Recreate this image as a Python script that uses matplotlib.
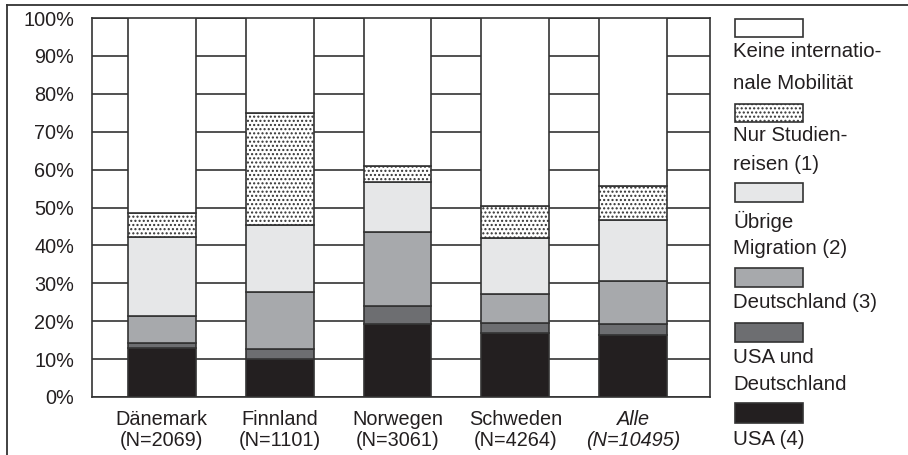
import matplotlib
matplotlib.use("Agg")
import matplotlib.pyplot as plt
import numpy as np
from matplotlib.patches import Rectangle
from matplotlib.lines import Line2D

plt.rcParams['font.family'] = ['Liberation Sans', 'DejaVu Sans']
plt.rcParams['hatch.linewidth'] = 1.0

categories = ["Dänemark\n(N=2069)", "Finnland\n(N=1101)", "Norwegen\n(N=3061)",
              "Schweden\n(N=4264)", "Alle\n(N=10495)"]

# segment shares in percent, bottom to top
usa          = [13.0, 10.0, 19.3, 17.0, 16.3]
usa_und_de   = [1.3, 2.7, 4.7, 2.6, 3.0]
deutschland  = [7.0, 14.9, 19.5, 7.7, 11.3]
uebrige      = [20.8, 17.8, 13.3, 14.6, 16.1]
studienreise = [6.4, 29.6, 4.2, 8.5, 9.0]
keine        = [51.5, 25.0, 39.0, 49.6, 44.3]

series = [usa, usa_und_de, deutschland, uebrige, studienreise, keine]
colors = ["#231f20", "#6d6e71", "#a7a9ac", "#e6e7e8", "white", "white"]
hatches = [None, None, None, None, "....", None]
legend_labels = [["USA (4)"], ["USA und", "Deutschland"], ["Deutschland (3)"],
                 ["Übrige", "Migration (2)"], ["Nur Studien-", "reisen (1)"],
                 ["Keine internatio-", "nale Mobilität"]]

W, H = 908, 455
fig = plt.figure(figsize=(W / 100, H / 100), dpi=100)
fig.patch.set_facecolor("white")

ax = fig.add_axes([92 / W, 1 - 397 / H, (710 - 92) / W, (397 - 18) / H])
x = np.arange(len(categories))
edge = "#333333"
bottom = np.zeros(len(categories))
for vals, c, h in zip(series, colors, hatches):
    ax.bar(x, vals, width=0.576, bottom=bottom, color=c, edgecolor=edge,
           linewidth=1.2, hatch=h, zorder=3)
    bottom += np.array(vals)

FS = 14.3
ax.set_xlim(-0.593, 4.653)
ax.set_ylim(0, 100)
ax.set_yticks(np.arange(0, 101, 10))
ax.set_yticklabels([f"{v}%" for v in range(0, 101, 10)])
ax.yaxis.grid(True, color=edge, linewidth=1.2, zorder=0)
ax.set_axisbelow(True)
ax.set_xticks(x)
ax.set_xticklabels(categories, linespacing=1.1)
ax.get_xticklabels()[-1].set_style("italic")
ax.tick_params(axis="y", length=0, pad=13, labelsize=FS, colors="#231f20")
ax.tick_params(axis="x", length=0, pad=9.5, labelsize=FS, colors="#231f20")
for s in ax.spines.values():
    s.set_color(edge)
    s.set_linewidth(1.2)

# legend drawn in pixel coordinates
lax = fig.add_axes([0, 0, 1, 1], zorder=-1)
lax.set_xlim(0, W)
lax.set_ylim(H, 0)
lax.axis("off")
patch_tops = [403, 323, 268, 183, 104, 19]
patch_h = [20, 19, 19, 19, 18, 18]
text_baselines = [[445], [363, 390], [308], [228, 254], [141, 170], [57, 89]]
for c, h, top, ph, labs, bls in zip(colors, hatches, patch_tops, patch_h,
                                    legend_labels, text_baselines):
    lax.add_patch(Rectangle((735, top), 68, ph, facecolor=c, edgecolor=edge,
                            linewidth=1.2, hatch=h))
    for lab, bl in zip(labs, bls):
        lax.text(733, bl, lab, fontsize=FS + 0.4, ha="left", va="baseline",
                 color="#231f20")

# outer frame
lax.add_line(Line2D([7, 7], [5, H], color=edge, linewidth=1.3))
lax.add_line(Line2D([7, W], [5, 5], color=edge, linewidth=1.3))

fig.savefig("out.png", dpi=100, facecolor="white")
